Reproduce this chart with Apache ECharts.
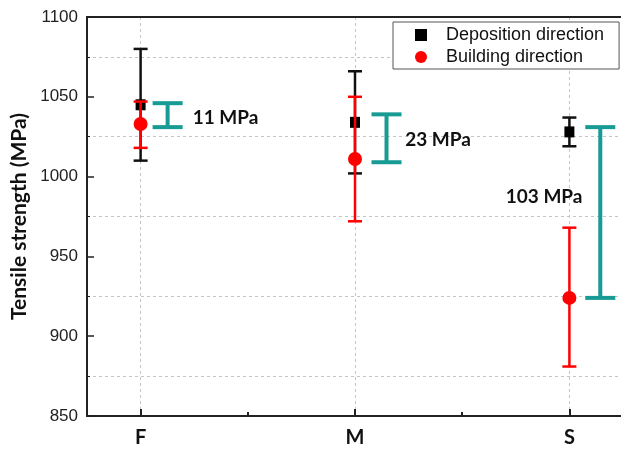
<!DOCTYPE html>
<html>
<head>
<meta charset="utf-8">
<script src="https://cdn.jsdelivr.net/npm/echarts@6/dist/echarts.min.js"></script>
<style>
  html, body { margin: 0; padding: 0; background: #fff; }
  #chart { width: 621px; height: 450px; }
</style>
</head>
<body>
<div id="chart"></div>
<script>
// categories sit at x = 1, 2, 3 on a value axis
var categories = ['F', 'M', 'S'];
var catPos = [1, 2, 3];

// deposition direction (black squares)
var depMean = [1045, 1034, 1028];
var depLow = [1010, 1002, 1019];
var depHigh = [1080, 1066, 1037];

// building direction (red circles)
var bldMean = [1033, 1011, 924];
var bldLow = [1018, 972, 881];
var bldHigh = [1047, 1050, 968];

// teal difference brackets
var diffPos = [1.126, 2.147, 3.144];
var diffLow = [1031, 1009, 924];
var diffHigh = [1046, 1039, 1031];
var diffText = ['11 MPa', '23 MPa', '103 MPa'];
var diffTextX = [1.243, 2.234, 2.703];
var diffTextY = [1037, 1023, 987];

var yTicks = [850, 900, 950, 1000, 1050, 1100];

function barData(xs, lo, hi) {
    var out = [];
    for (var i = 0; i < xs.length; i++) {
        out.push([xs[i], lo[i], hi[i]]);
    }
    return out;
}
function pointData(xs, ys) {
    var out = [];
    for (var i = 0; i < xs.length; i++) {
        out.push([xs[i], ys[i]]);
    }
    return out;
}

// vertical bar with caps
function errorBar(color, lw, capHalf) {
    return function (params, api) {
        var x = api.value(0);
        var top = api.coord([x, api.value(2)]);
        var bot = api.coord([x, api.value(1)]);
        var st = { stroke: color, lineWidth: lw };
        return {
            type: 'group',
            children: [
                { type: 'line', shape: { x1: top[0], y1: top[1], x2: bot[0], y2: bot[1] }, style: st },
                { type: 'line', shape: { x1: top[0] - capHalf, y1: top[1], x2: top[0] + capHalf, y2: top[1] }, style: st },
                { type: 'line', shape: { x1: bot[0] - capHalf, y1: bot[1], x2: bot[0] + capHalf, y2: bot[1] }, style: st }
            ]
        };
    };
}

var myChart = echarts.init(document.getElementById('chart'));

myChart.setOption({
    backgroundColor: '#fff',
    animation: false,
    grid: { left: 87, top: 17, right: -2, bottom: 34, containLabel: false, outerBoundsMode: 'none' },
    legend: {
        orient: 'vertical',
        left: 393,
        top: 22,
        padding: [4, 15, 3, 22],
        itemGap: 4,
        itemWidth: 40,
        itemHeight: 12,
        symbolKeepAspect: true,
        backgroundColor: '#fff',
        borderColor: '#555',
        borderWidth: 1,
        borderRadius: 0,
        textStyle: { fontFamily: 'Liberation Sans', fontSize: 18, color: '#111' },
        data: [
            { name: 'Deposition direction', icon: 'path://M0,0L10,0L10,10L0,10Z' },
            { name: 'Building direction', icon: 'circle' }
        ]
    },
    xAxis: [
        {
            type: 'value',
            min: 0.75,
            max: 3.25,
            axisLine: { show: true, lineStyle: { color: '#222', width: 2 } },
            axisTick: { show: true, inside: true, length: 7, customValues: catPos, lineStyle: { color: '#222', width: 2 } },
            axisLabel: {
                customValues: catPos,
                margin: 12,
                fontFamily: 'Lato',
                fontWeight: 'bold',
                fontSize: 20,
                color: '#111',
                formatter: function (v) { return categories[Math.round(v) - 1]; }
            },
            splitLine: { show: true, lineStyle: { color: '#c4c4c4', type: [3, 3], width: 1 } }
        },
        {
            type: 'value',
            min: 0.75,
            max: 3.25,
            position: 'bottom',
            axisLine: { show: false },
            axisTick: { show: true, inside: true, length: 4, customValues: [1.5, 2.5], lineStyle: { color: '#222', width: 2 } },
            axisLabel: { show: false },
            splitLine: { show: false }
        },
        {
            type: 'value',
            min: 0.75,
            max: 3.25,
            position: 'top',
            axisLine: { show: true, lineStyle: { color: '#222', width: 2 } },
            axisTick: { show: false },
            axisLabel: { show: false },
            splitLine: { show: false }
        }
    ],
    yAxis: {
        type: 'value',
        min: yTicks[0],
        max: yTicks[yTicks.length - 1],
        interval: 50,
        name: 'Tensile strength (MPa)',
        nameLocation: 'middle',
        nameGap: 54,
        nameTextStyle: { fontFamily: 'Lato', fontWeight: 'bold', fontSize: 21, color: '#111' },
        axisLine: { show: true, lineStyle: { color: '#222', width: 2 } },
        axisTick: { show: true, inside: true, length: 7, lineStyle: { color: '#222', width: 1.5 } },
        minorTick: { show: true, splitNumber: 2, length: 3, lineStyle: { color: '#222' } },
        axisLabel: {
            margin: 9,
            fontFamily: 'Liberation Sans',
            fontSize: 17,
            color: '#222',
            formatter: function (v) { return String(v); }
        },
        splitLine: { show: false },
        minorSplitLine: { show: true, lineStyle: { color: '#c4c4c4', type: [3, 3], width: 1 } }
    },
    series: [
        {
            type: 'custom',
            renderItem: errorBar('#111', 2.5, 7),
            encode: { x: 0, y: [1, 2] },
            data: barData(catPos, depLow, depHigh),
            z: 3
        },
        {
            name: 'Deposition direction',
            type: 'scatter',
            symbol: 'rect',
            symbolSize: [10, 11],
            itemStyle: { color: '#000', opacity: 1 },
            data: pointData(catPos, depMean),
            z: 3
        },
        {
            type: 'custom',
            renderItem: errorBar('#f00', 2.5, 7),
            encode: { x: 0, y: [1, 2] },
            data: barData(catPos, bldLow, bldHigh),
            z: 4
        },
        {
            name: 'Building direction',
            type: 'scatter',
            symbol: 'circle',
            symbolSize: 14,
            itemStyle: { color: '#f00', opacity: 1 },
            data: pointData(catPos, bldMean),
            z: 4
        },
        {
            type: 'custom',
            renderItem: errorBar('#179b94', 4, 15),
            encode: { x: 0, y: [1, 2] },
            data: barData(diffPos, diffLow, diffHigh),
            z: 3
        },
        {
            type: 'custom',
            renderItem: function (params, api) {
                var p = api.coord([api.value(0), api.value(1)]);
                return {
                    type: 'text',
                    x: p[0],
                    y: p[1],
                    style: {
                        text: diffText[params.dataIndex],
                        fill: '#111',
                        font: 'bold 19px Lato',
                        verticalAlign: 'middle',
                        align: 'left'
                    }
                };
            },
            encode: { x: 0, y: 1 },
            data: pointData(diffTextX, diffTextY),
            z: 5
        }
    ]
});
</script>
</body>
</html>
